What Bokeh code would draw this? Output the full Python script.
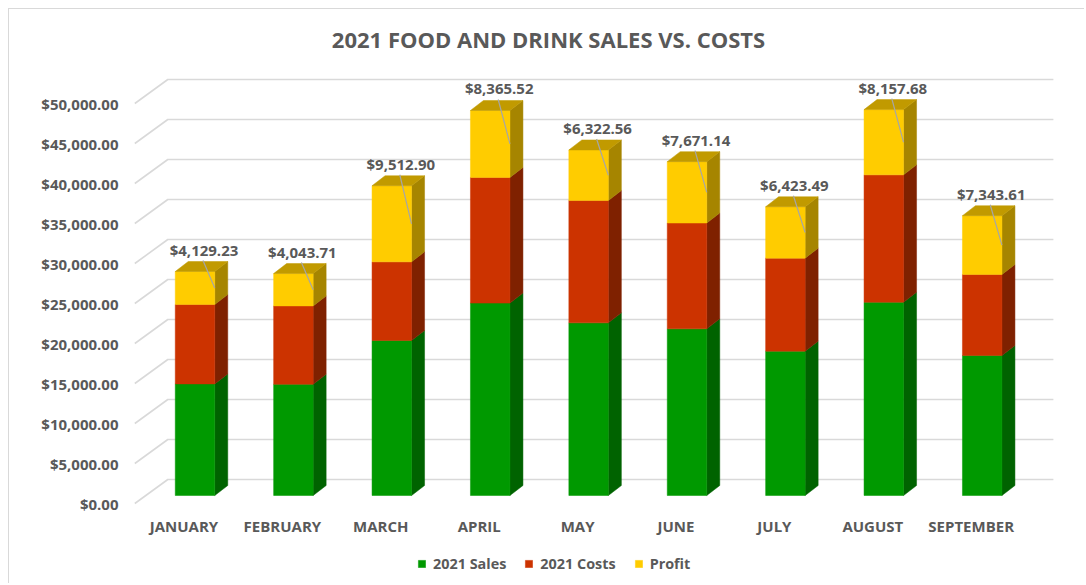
from bokeh.plotting import figure
from bokeh.models import FixedTicker, NumeralTickFormatter, Legend, LegendItem, Label, Range1d
from bokeh.core.properties import value
from bokeh.embed import file_html
from bokeh.resources import INLINE

# ---------------- data ----------------
months = ["JANUARY", "FEBRUARY", "MARCH", "APRIL", "MAY", "JUNE", "JULY", "AUGUST", "SEPTEMBER"]
sales = [13950, 13900, 19375, 24050, 21580, 20830, 18040, 24160, 17500]
costs = [9920, 9800, 9830, 15710, 15290, 13230, 11630, 15920, 10130]
profit = [4129.23, 4043.71, 9512.90, 8365.52, 6322.56, 7671.14, 6423.49, 8157.68, 7343.61]
series_names = ["2021 Sales", "2021 Costs", "Profit"]
y_ticks = [0, 5000, 10000, 15000, 20000, 25000, 30000, 35000, 40000, 45000, 50000]
title_text = "2021 FOOD AND DRINK SALES VS. COSTS"

# ---------------- styling / geometry ----------------
W, H = 1076, 575
BORDER_LEFT = 121
PX_PER_CAT = 98.4          # pixels per category step
USD_PER_PX = 125.0         # dollars per pixel
CAT0_FROM_FRAME = 53.5     # px from frame left to category 0 (front plane)
ZERO_FROM_TOP = 494.0      # px from top of frame to value 0 (front plane)

def dxu(px):
    return px / PX_PER_CAT

def dyu(px):
    return px * USD_PER_PX

x0 = -dxu(CAT0_FROM_FRAME)
x_range = Range1d(x0, x0 + dxu(W - BORDER_LEFT))
y_top = dyu(ZERO_FROM_TOP)
y_range = Range1d(y_top - dyu(H), y_top)

front_colors = ["#009900", "#CC3300", "#FFCC00"]
side_colors = ["#006300", "#7F2100", "#A68500"]
top_color = "#C19A00"
text_color = "#595959"
grid_color = "#D9D9D9"
FONT = "Open Sans"

BACK_DX, BACK_DY = 33, 24      # back wall offset in px (right, up)
BAR_DX, BAR_DY = 11, 8         # bar front plane offset (right, up)
DEPTH_DX, DEPTH_DY = 13, 10    # bar depth (right, up)
HALF_W = 19.75                 # bar half width px

p = figure(width=W, height=H, x_range=x_range, y_range=y_range,
           output_backend="svg", toolbar_location=None,
           x_axis_location=None, y_axis_location="left",
           min_border=0, min_border_left=BORDER_LEFT, min_border_right=0,
           min_border_top=0, min_border_bottom=0)
p.margin = (8, 0, 0, 8)
p.outline_line_color = None
p.xgrid.visible = False
p.ygrid.visible = False
p.styles = {"border-left": "1px solid #D9D9D9", "border-top": "1px solid #D9D9D9"}

# y axis (front plane)
ax = p.yaxis[0]
ax.ticker = FixedTicker(ticks=y_ticks)
ax.formatter = NumeralTickFormatter(format="$0,0.00")
ax.axis_line_color = None
ax.major_tick_line_color = None
ax.minor_tick_line_color = None
ax.major_tick_out = 0
ax.major_tick_in = 0
ax.major_label_standoff = 12
ax.major_label_text_font = FONT
ax.major_label_text_font_style = "bold"
ax.major_label_text_font_size = "15px"
ax.major_label_text_color = text_color

# gridlines: left side wall (slanted) + back wall (horizontal)
n = len(months)
gx, gy = [], []
for v in y_ticks:
    gx.append([-0.5, -0.5 + dxu(BACK_DX), (n - 0.5) + dxu(BACK_DX)])
    gy.append([v, v + dyu(BACK_DY), v + dyu(BACK_DY)])
p.multi_line(gx, gy, line_color=grid_color, line_width=1.6)

# bars
stacks = [sales, costs, profit]
front_renderers = []
for s, vals in enumerate(stacks):
    bottoms = [sum(stacks[k][i] for k in range(s)) for i in range(n)]
    tops = [bottoms[i] + vals[i] for i in range(n)]
    left = [i + dxu(BAR_DX - HALF_W) for i in range(n)]
    right = [i + dxu(BAR_DX + HALF_W) for i in range(n)]
    bot = [b + dyu(BAR_DY) for b in bottoms]
    top = [t + dyu(BAR_DY) for t in tops]
    sx = [[r, r + dxu(DEPTH_DX), r + dxu(DEPTH_DX), r] for r in right]
    sy = [[b, b + dyu(DEPTH_DY), t + dyu(DEPTH_DY), t] for b, t in zip(bot, top)]
    p.patches(sx, sy, fill_color=side_colors[s], line_color=side_colors[s], line_width=0.5)
    r = p.quad(left=left, right=right, bottom=bot, top=top,
               fill_color=front_colors[s], line_color=front_colors[s], line_width=0.5)
    front_renderers.append(r)
    if s == len(stacks) - 1:
        tx = [[l, l + dxu(DEPTH_DX), rr + dxu(DEPTH_DX), rr] for l, rr in zip(left, right)]
        ty = [[t, t + dyu(DEPTH_DY), t + dyu(DEPTH_DY), t] for t in top]
        p.patches(tx, ty, fill_color=top_color, line_color=top_color, line_width=0.5)

# data labels for profit with leader lines
totals = [sales[i] + costs[i] + profit[i] for i in range(n)]
lab_x = [i + dxu(BAR_DX + 9) for i in range(n)]
lab_y = [t + dyu(BAR_DY + DEPTH_DY + 12) for t in totals]
lead_x0 = [x - dxu(1) for x in lab_x]
lead_y0 = [y - dyu(11) for y in lab_y]
lead_x1 = [i + dxu(BAR_DX + HALF_W) for i in range(n)]
lead_y1 = [sales[i] + costs[i] + profit[i] / 2 + dyu(BAR_DY) for i in range(n)]
p.segment(lead_x0, lead_y0, lead_x1, lead_y1, line_color="#A6A6A6", line_width=1.2)
p.text(lab_x, lab_y, text=["${:,.2f}".format(v) for v in profit],
       text_align="center", text_baseline="middle",
       text_font=value(FONT), text_font_style="bold", text_font_size="15px",
       text_color=text_color)

# category labels (front plane)
p.text(list(range(n)), [dyu(-22)] * n, text=months,
       text_align="center", text_baseline="middle",
       text_font=value(FONT), text_font_style="bold", text_font_size="15px",
       text_color=text_color)

# title
p.add_layout(Label(x=dxu(548 - 130 - CAT0_FROM_FRAME), y=dyu(465), text=title_text,
                   text_align="center", text_baseline="middle",
                   text_font=FONT, text_font_style="bold", text_font_size="22px",
                   text_color=text_color))

# legend
legend = Legend(items=[LegendItem(label=series_names[k], renderers=[front_renderers[k]]) for k in range(3)],
                orientation="horizontal", location=(287, 11),
                border_line_color=None, background_fill_alpha=0,
                padding=0, margin=0, spacing=18, glyph_width=9, glyph_height=9,
                label_standoff=7, label_text_font=FONT, label_text_font_style="bold",
                label_text_font_size="14.4px", label_text_color=text_color)
p.add_layout(legend)

open("out.html", "w").write(file_html(p, INLINE))
